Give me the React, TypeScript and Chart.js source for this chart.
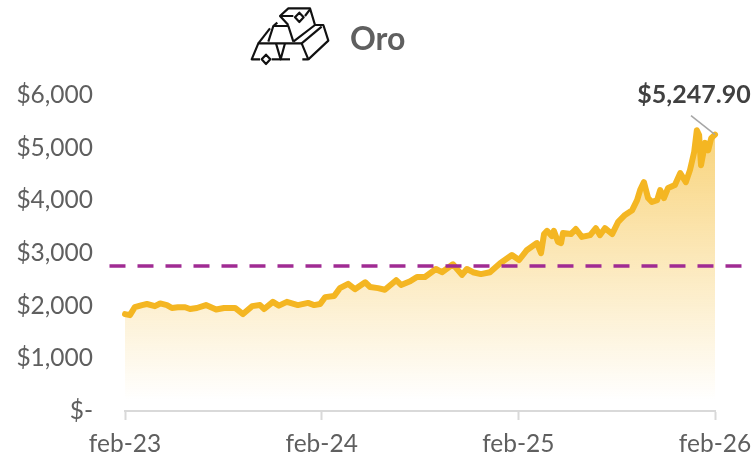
import React, { useEffect, useRef } from "react";
import { Chart, registerables } from "chart.js";

Chart.register(...registerables);

const tickLabels = ["feb-23", "feb-24", "feb-25", "feb-26"];
const titleText = "Oro";
const lastLabel = "$5,247.90";
const referenceValue = 2753;
const referenceWeeks = [-4.1, 163.1];

// weeks since feb-23
const weeks = [0,1.3,2.6,4.5,5.8,7.9,9.3,11.1,12.4,14,15.9,17.2,19,21.4,24.1,26.2,29.1,31.2,33.6,35.7,36.8,39.1,40.7,42.8,45.7,48.4,50,51.6,52.9,55.3,56.8,59,60.8,63.5,64.8,66.9,68.7,71.7,73,75.4,77.2,79.3,82.2,83.8,86.7,89.1,90.4,92,94.1,96.5,99.2,102.3,104.2,106.3,108.9,110,110.8,111.6,112.9,113.4,114.5,115.3,115.8,117.9,119.2,120.8,123,124.5,125.6,126.9,128.8,130.4,132.2,134.1,135.4,136.2,137.2,138.3,139.3,140.7,141.5,142.5,143.6,145.4,146.8,148.3,149.4,150.5,151.2,151.8,152.3,153.4,154.2,155,156];
const prices = [1840,1820,1971,2011,2032,1991,2042,2011,1956,1971,1971,1936,1956,2011,1926,1956,1956,1840,1991,2011,1936,2072,2001,2072,2011,2052,2011,2032,2162,2183,2333,2414,2313,2444,2354,2333,2303,2484,2394,2464,2545,2545,2696,2635,2786,2585,2696,2635,2600,2635,2806,2962,2867,3058,3189,2998,3360,3420,3320,3420,3209,3189,3380,3360,3455,3305,3340,3471,3340,3471,3360,3591,3722,3813,4004,4195,4346,4044,3969,4004,4195,4044,4235,4291,4517,4346,4578,4920,5332,5242,4668,5091,4950,5181,5247.9];

const GREY = "#5f5f5f";
const FONT = "Lato, 'Open Sans', sans-serif";

export default function App() {
  const ref = useRef<HTMLCanvasElement>(null);
  useEffect(() => {
    const annotate = {
      id: "annotate",
      afterDraw(chart: any) {
        const { ctx, scales } = chart;
        const px = scales.x.getPixelForValue(weeks[weeks.length - 1]);
        const py = scales.y.getPixelForValue(prices[prices.length - 1]);
        ctx.save();
        ctx.strokeStyle = "#a6a6a6";
        ctx.lineWidth = 1.5;
        ctx.beginPath();
        ctx.moveTo(px - 24, py - 19);
        ctx.lineTo(px, py);
        ctx.stroke();
        ctx.fillStyle = "#404040";
        ctx.font = `bold 25px ${FONT}`;
        ctx.textAlign = "center";
        ctx.textBaseline = "middle";
        ctx.fillText(lastLabel, px - 21, py - 40);
        ctx.fillStyle = GREY;
        ctx.font = `bold 32px ${FONT}`;
        ctx.textAlign = "left";
        ctx.fillText(titleText, 350, 40);
        ctx.restore();
      },
    };
    const chart = new Chart(ref.current!, {
      type: "line",
      data: {
        datasets: [
          {
            data: referenceWeeks.map((x) => ({ x, y: referenceValue })),
            borderColor: "#a02b93",
            borderWidth: 3.5,
            borderDash: [16, 12],
            pointRadius: 0,
            clip: false,
            fill: false,
            order: 0,
          },
          {
            data: weeks.map((x, i) => ({ x, y: prices[i] })),
            borderColor: "#f4b622",
            borderWidth: 6,
            borderJoinStyle: "round",
            borderCapStyle: "round",
            pointRadius: 0,
            tension: 0,
            clip: false,
            fill: "origin",
            order: 1,
            backgroundColor: (c: any) => {
              const area = c.chart.chartArea;
              if (!area) return "transparent";
              const g = c.chart.ctx.createLinearGradient(0, 130, 0, 400);
              g.addColorStop(0, "rgba(244,182,34,0.6)");
              g.addColorStop(1, "rgba(244,182,34,0)");
              return g;
            },
          },
        ],
      },
      options: {
        responsive: false,
        animation: false,
        layout: { padding: { top: 95, right: 41, left: 0, bottom: 0 } },
        plugins: { legend: { display: false }, tooltip: { enabled: false }, title: { display: false } },
        scales: {
          x: {
            type: "linear",
            min: 0,
            max: 156,
            afterFit: (s: any) => { s.height = 46; s.paddingLeft = 0; s.paddingRight = 0; },
            border: { color: "#d9d9d9", width: 2 },
            grid: { drawOnChartArea: false, drawTicks: true, tickLength: 9, tickColor: "#d9d9d9", tickWidth: 2 },
            ticks: {
              stepSize: 52,
              autoSkip: false,
              maxRotation: 0,
              padding: 9,
              color: GREY,
              font: { family: FONT, size: 24.5 },
              callback: (v: any) => tickLabels[Number(v) / 52],
            },
          },
          y: {
            min: 0,
            max: 6000,
            afterFit: (s: any) => { s.width = 125; s.paddingTop = 0; s.paddingBottom = 0; },
            border: { display: false },
            grid: { display: false },
            ticks: {
              stepSize: 1000,
              padding: 24,
              color: GREY,
              font: { family: FONT, size: 24.5 },
              callback: (v: any) => (Number(v) === 0 ? "$-" : "$" + Number(v).toLocaleString("en-US")),
            },
          },
        },
      },
      plugins: [annotate],
    } as any);
    return () => chart.destroy();
  }, []);

  return (
    <div style={{ position: "absolute", left: 0, top: 0, width: 756, height: 457, background: "#fff" }}>
      <canvas ref={ref} width={756} height={457} style={{ display: "block" }} />
      <svg
        viewBox="0 0 540 225"
        width={180}
        height={75}
        style={{ position: "absolute", left: 240, top: 0 }}
        fill="none"
        stroke="#111"
        strokeWidth={6.5}
        strokeLinejoin="round"
      >
        <path d="M60 178H35L55 130H185L205 178H187" />
        <path d="M95 178H150" />
        <path d="M108 130L122 178L135 130" />
        <path d="M55 130L90 85" />
        <path d="M85 125L100 78H145L160 125" />
        <path d="M100 78L112 68" />
        <path d="M145 75L120 48L145 25H210L225 75" />
        <path d="M120 48H160M195 48L210 28" />
        <path d="M160 125L225 75H250L265 122L205 178" />
        <path d="M185 130L245 80" />
        <path d="M78 164L91 178L78 192L65 178Z" />
        <path d="M178 38L191 52L178 66L165 52Z" />
      </svg>
    </div>
  );
}
